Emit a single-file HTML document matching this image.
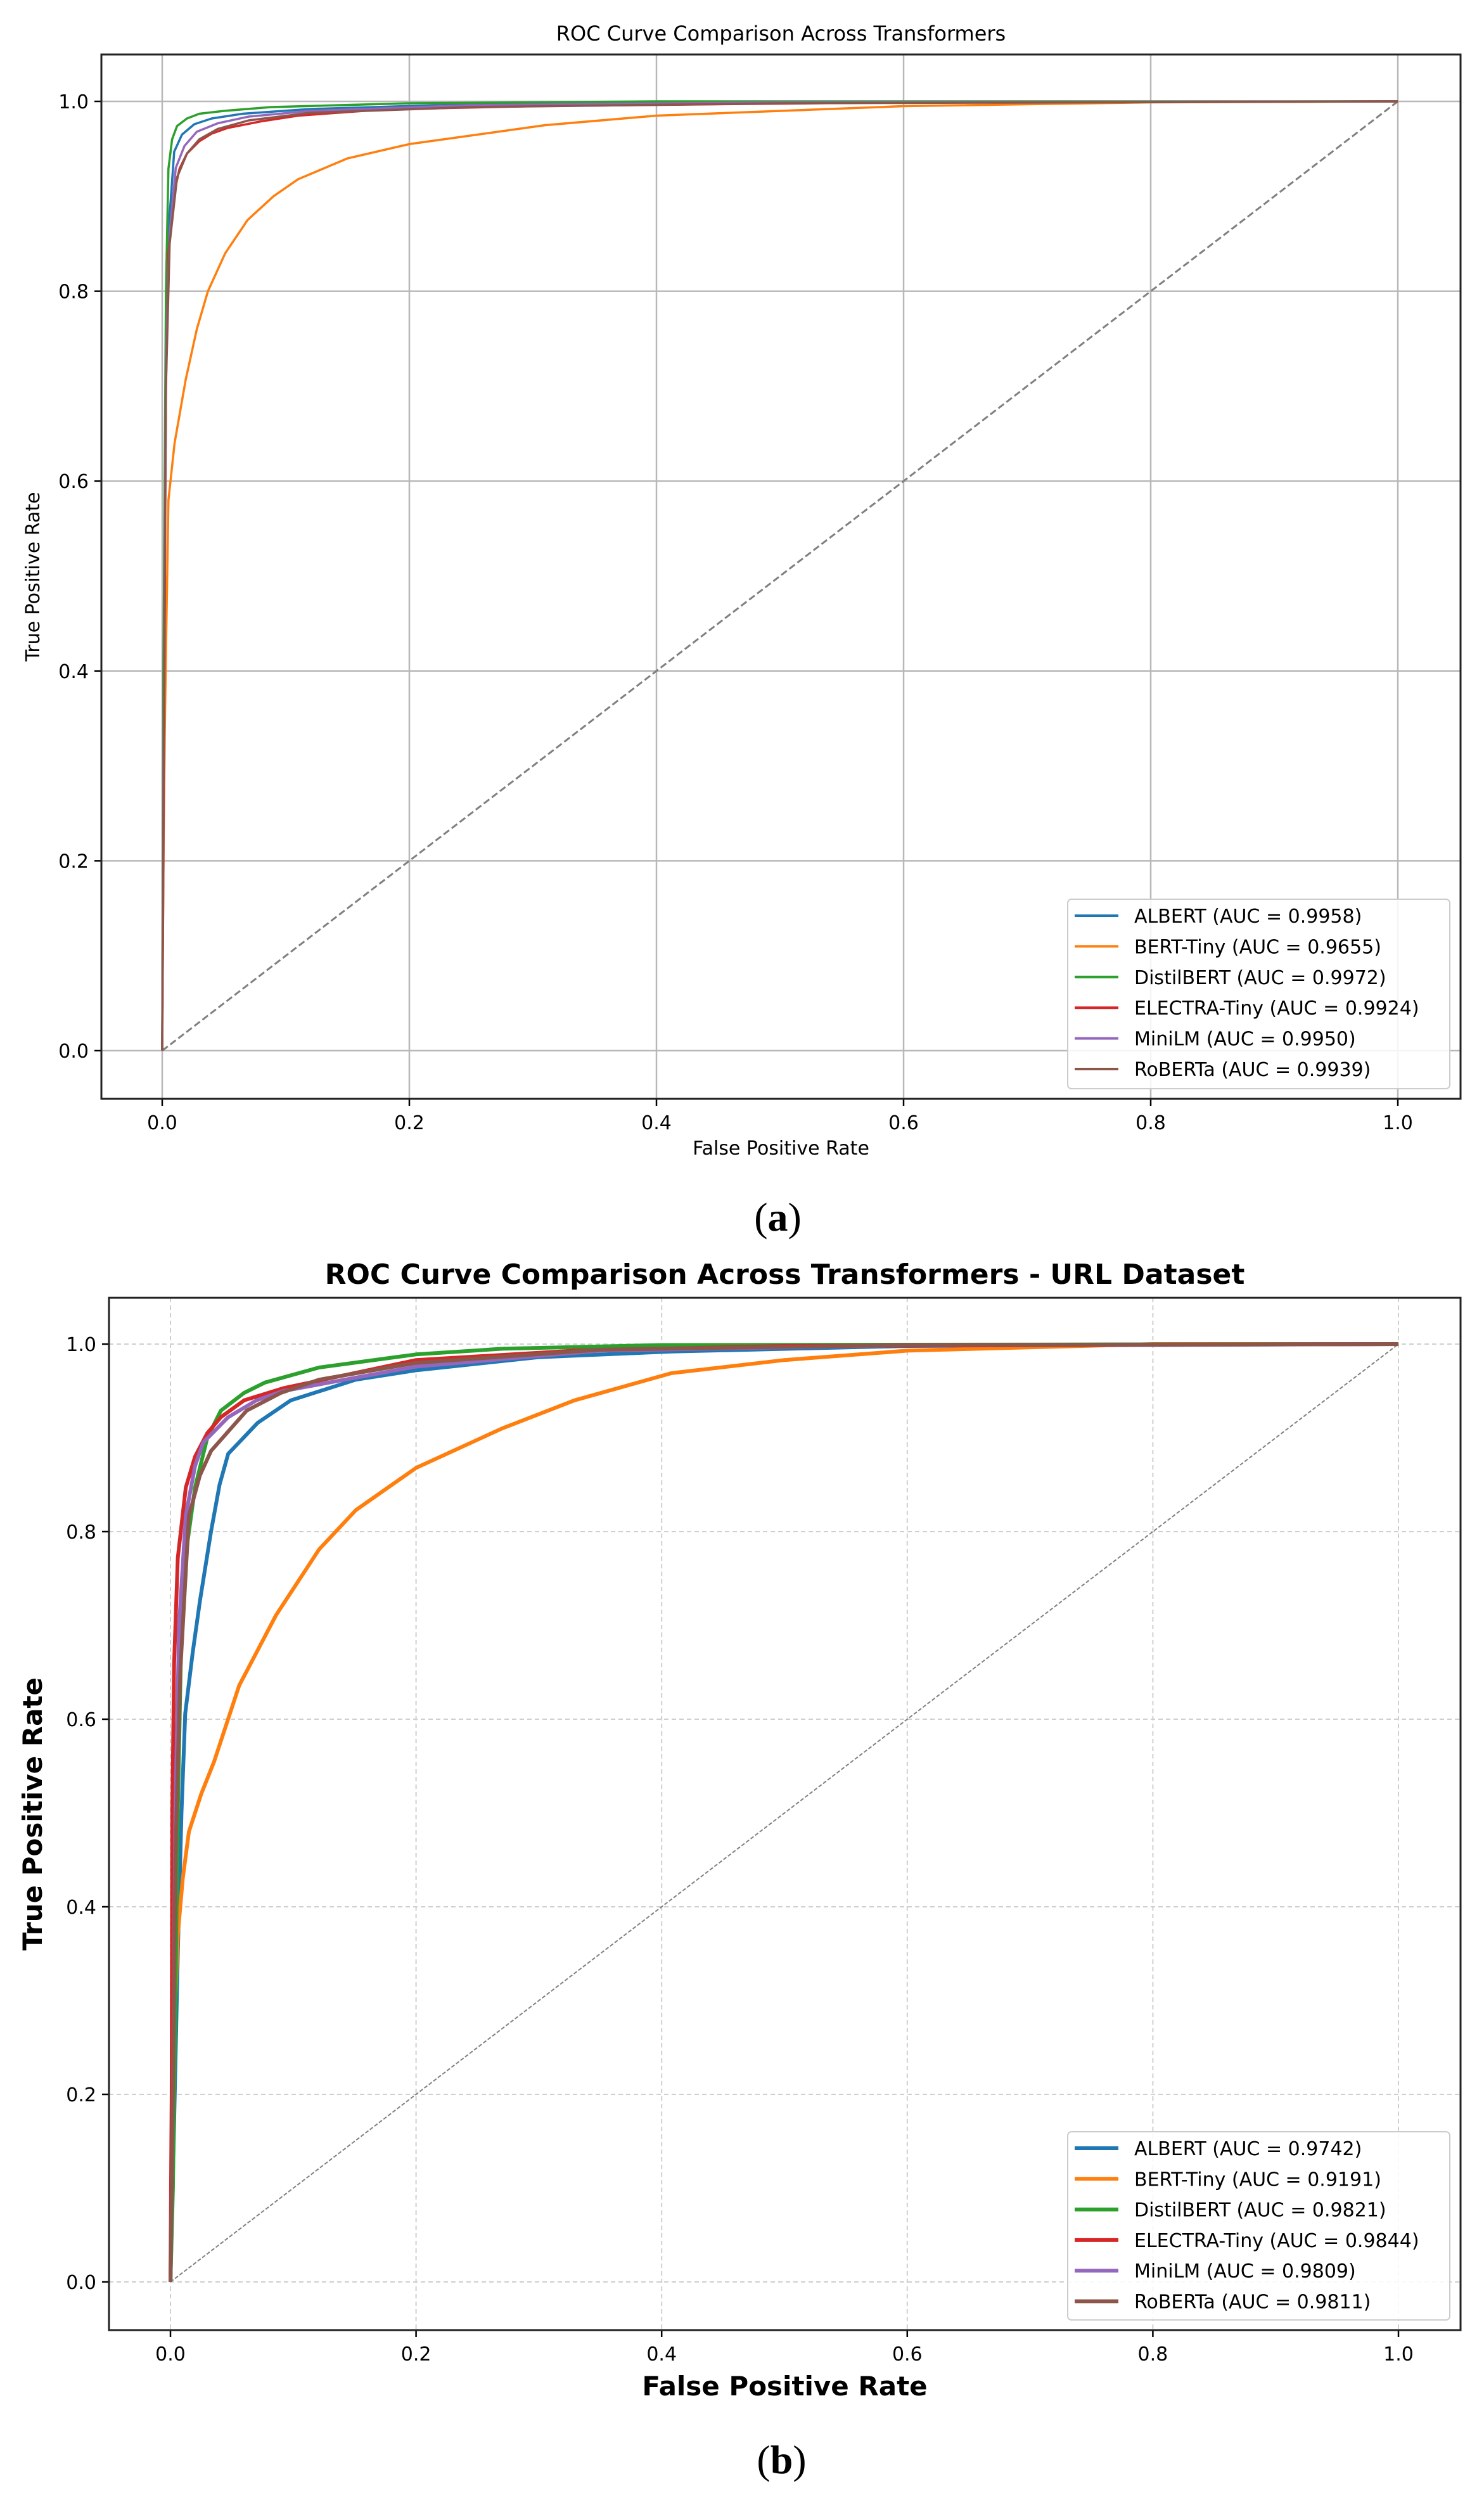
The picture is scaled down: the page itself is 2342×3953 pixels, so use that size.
<!DOCTYPE html>
<html><head><meta charset="utf-8"><style>
html,body{margin:0;padding:0;background:#fff;}
svg{display:block;}
text{font-family:"DejaVu Sans","Liberation Sans",sans-serif;fill:#000;}
</style></head><body>
<svg id="fig" width="2342" height="3953" viewBox="0 0 2342 3953" xmlns="http://www.w3.org/2000/svg"></svg>
<script>
const ticks = [0, 0.2, 0.4, 0.6, 0.8, 1.0];
const tickLabels = ["0.0", "0.2", "0.4", "0.6", "0.8", "1.0"];
const models = ["ALBERT", "BERT-Tiny", "DistilBERT", "ELECTRA-Tiny", "MiniLM", "RoBERTa"];
const colors = ["#1f77b4", "#ff7f0e", "#2ca02c", "#d62728", "#9467bd", "#8c564b"];
const aucA = ["0.9958", "0.9655", "0.9972", "0.9924", "0.9950", "0.9939"];
const aucB = ["0.9742", "0.9191", "0.9821", "0.9844", "0.9809", "0.9811"];

// Chart (a) ROC points
const a_albert_fpr = [0, 0.001, 0.003, 0.006, 0.0097, 0.016, 0.026, 0.04, 0.065, 0.12, 0.25, 0.5, 1];
const a_albert_tpr = [0, 0.3, 0.75, 0.88, 0.947, 0.965, 0.976, 0.982, 0.987, 0.992, 0.997, 0.999, 1];
const a_bert_fpr = [0, 0.001, 0.002, 0.003, 0.005, 0.01, 0.019, 0.028, 0.037, 0.051, 0.069, 0.09, 0.11, 0.15, 0.2, 0.31, 0.4, 0.6, 0.8, 1];
const a_bert_tpr = [0, 0.2, 0.33, 0.42, 0.58, 0.64, 0.707, 0.76, 0.80, 0.84, 0.875, 0.9, 0.918, 0.94, 0.955, 0.975, 0.985, 0.995, 0.999, 1];
const a_distil_fpr = [0, 0.001, 0.003, 0.005, 0.008, 0.012, 0.02, 0.03, 0.05, 0.088, 0.2, 0.4, 1];
const a_distil_tpr = [0, 0.4, 0.8, 0.929, 0.96, 0.974, 0.982, 0.987, 0.99, 0.994, 0.998, 1, 1];
const a_electra_fpr = [0, 0.001, 0.003, 0.005, 0.009, 0.014, 0.02, 0.03, 0.04, 0.053, 0.08, 0.11, 0.18, 0.3, 0.6, 1];
const a_electra_tpr = [0, 0.2, 0.7, 0.84, 0.9, 0.929, 0.945, 0.958, 0.966, 0.972, 0.979, 0.985, 0.9916, 0.995, 0.999, 1];
const a_minilm_fpr = [0, 0.001, 0.003, 0.006, 0.011, 0.018, 0.028, 0.045, 0.07, 0.12, 0.25, 0.5, 1];
const a_minilm_tpr = [0, 0.3, 0.72, 0.86, 0.93, 0.953, 0.968, 0.977, 0.984, 0.99, 0.996, 0.999, 1];
const a_roberta_fpr = [0, 0.001, 0.003, 0.006, 0.012, 0.02, 0.03, 0.045, 0.07, 0.12, 0.25, 0.5, 1];
const a_roberta_tpr = [0, 0.25, 0.7, 0.85, 0.92, 0.945, 0.96, 0.971, 0.98, 0.988, 0.994, 0.998, 1];

// Chart (b) ROC points
const b_albert_fpr = [0, 0.003, 0.006, 0.009, 0.012, 0.018, 0.024, 0.033, 0.04, 0.047, 0.071, 0.098, 0.151, 0.2, 0.3, 0.408, 0.6, 1];
const b_albert_tpr = [0, 0.17, 0.35, 0.5, 0.606, 0.67, 0.726, 0.80, 0.85, 0.883, 0.916, 0.94, 0.962, 0.972, 0.986, 0.992, 0.998, 1];
const b_bert_fpr = [0, 0.002, 0.004, 0.006, 0.01, 0.015, 0.025, 0.0356, 0.056, 0.086, 0.121, 0.151, 0.2, 0.27, 0.329, 0.408, 0.5, 0.6, 0.8, 1];
const b_bert_tpr = [0, 0.15, 0.3, 0.37, 0.43, 0.48, 0.52, 0.555, 0.636, 0.711, 0.781, 0.823, 0.868, 0.91, 0.94, 0.969, 0.983, 0.993, 1, 1];
const b_distil_fpr = [0, 0.002, 0.004, 0.006, 0.009, 0.014, 0.02, 0.03, 0.041, 0.06, 0.077, 0.121, 0.2, 0.27, 0.4, 1];
const b_distil_tpr = [0, 0.1, 0.3, 0.5, 0.70, 0.79, 0.847, 0.9, 0.929, 0.948, 0.959, 0.975, 0.989, 0.995, 0.999, 1];
const b_electra_fpr = [0, 0.001, 0.0015, 0.003, 0.006, 0.0125, 0.02, 0.03, 0.041, 0.06, 0.092, 0.2, 0.329, 0.5, 1];
const b_electra_tpr = [0, 0.2, 0.5, 0.66, 0.772, 0.847, 0.88, 0.905, 0.922, 0.94, 0.953, 0.983, 0.993, 0.998, 1];
const b_minilm_fpr = [0, 0.002, 0.004, 0.007, 0.0125, 0.02, 0.0267, 0.047, 0.07, 0.092, 0.2, 0.35, 0.6, 1];
const b_minilm_tpr = [0, 0.2, 0.5, 0.7, 0.817, 0.87, 0.895, 0.922, 0.94, 0.95, 0.976, 0.993, 0.999, 1];
const b_roberta_fpr = [0, 0.002, 0.004, 0.008, 0.015, 0.024, 0.033, 0.062, 0.09, 0.121, 0.2, 0.35, 0.6, 1];
const b_roberta_tpr = [0, 0.2, 0.45, 0.65, 0.817, 0.86, 0.886, 0.929, 0.948, 0.962, 0.98, 0.994, 0.999, 1];

const NS = "http://www.w3.org/2000/svg";
const fig = document.getElementById('fig');
function mk(tag, attrs, parent, txt) {
  const e = document.createElementNS(NS, tag);
  for (const k in attrs) e.setAttribute(k, attrs[k]);
  if (txt !== undefined) e.textContent = txt;
  (parent || fig).appendChild(e);
  return e;
}

function drawChart(cfg) {
  const g = mk('g', {});
  
  
  const sx = v => cfg.x0 + v * (cfg.x1 - cfg.x0);
  const sy = v => cfg.y0 + v * (cfg.y1 - cfg.y0);
  // grid
  ticks.forEach((t, i) => {
    const gx = mk('line', {x1: sx(t), x2: sx(t), y1: cfg.top, y2: cfg.bottom, stroke: cfg.gridColor, 'stroke-width': cfg.gridW, 'stroke-dasharray': cfg.gridDash}, g);
    
    
    const gy = mk('line', {x1: cfg.left, x2: cfg.right, y1: sy(t), y2: sy(t), stroke: cfg.gridColor, 'stroke-width': cfg.gridW, 'stroke-dasharray': cfg.gridDash}, g);
    
    
    mk('line', {x1: sx(t), x2: sx(t), y1: cfg.bottom, y2: cfg.bottom + 11, stroke: '#000', 'stroke-width': 2.5}, g);
    mk('line', {x1: cfg.left - 11, x2: cfg.left, y1: sy(t), y2: sy(t), stroke: '#000', 'stroke-width': 2.5}, g);
    const xl = mk('text', {x: sx(t), y: cfg.bottom + 48, 'font-size': 30, 'text-anchor': 'middle'}, g, tickLabels[i]);
    
    
    const yl = mk('text', {x: cfg.left - 20, y: sy(t) + 11, 'font-size': 30, 'text-anchor': 'end'}, g, tickLabels[i]);
    
    
  });
  // diagonal
  const d = mk('line', {x1: sx(0), y1: sy(0), x2: sx(1), y2: sy(1), stroke: '#808080', 'stroke-width': cfg.diagW, 'stroke-dasharray': cfg.diagDash}, g);
  
  
  // curves
  cfg.series.forEach((s, i) => {
    const pts = s[0].map((f, j) => sx(f).toFixed(1) + ',' + sy(s[1][j]).toFixed(1)).join(' ');
    const p = mk('polyline', {points: pts, fill: 'none', stroke: colors[i], 'stroke-width': cfg.lineW, 'stroke-linejoin': 'round'}, g);
    
    
  });
  // spines
  const sp = mk('rect', {x: cfg.left, y: cfg.top, width: cfg.right - cfg.left, height: cfg.bottom - cfg.top, fill: 'none', stroke: '#222', 'stroke-width': 3}, g);
  
  
  // legend
  const lg = mk('g', {}, g);
  
  
  mk('rect', {x: cfg.lx, y: cfg.ly, width: cfg.lw, height: cfg.lh, rx: 6, fill: '#fff', 'fill-opacity': 0.85, stroke: '#cccccc', 'stroke-width': 2}, lg);
  models.forEach((m, i) => {
    const yy = cfg.ly + cfg.lfirst + i * cfg.lstep;
    const e = mk('g', {}, lg);
    
    
    mk('line', {x1: cfg.lx + 11, x2: cfg.lx + 80, y1: yy, y2: yy, stroke: colors[i], 'stroke-width': cfg.legLineW}, e);
    mk('text', {x: cfg.lx + 105, y: yy + 11, 'font-size': 30}, e, m + ' (AUC = ' + cfg.auc[i] + ')');
  });
  // titles
  const t = mk('text', {x: (cfg.left + cfg.right) / 2, y: cfg.titleY, 'font-size': cfg.titleSize, 'font-weight': cfg.bold ? 'bold' : 'normal', 'text-anchor': 'middle'}, g, cfg.title);
  
  
  const xt = mk('text', {x: (cfg.left + cfg.right) / 2, y: cfg.xlabY, 'font-size': cfg.labSize, 'font-weight': cfg.bold ? 'bold' : 'normal', 'text-anchor': 'middle'}, g, 'False Positive Rate');
  
  
  const cy = (cfg.top + cfg.bottom) / 2;
  const yt = mk('text', {x: cfg.ylabX, y: cy, 'font-size': cfg.labSize, 'font-weight': cfg.bold ? 'bold' : 'normal', 'text-anchor': 'middle', transform: 'rotate(-90 ' + cfg.ylabX + ' ' + cy + ')'}, g, 'True Positive Rate');
  
  
  const cap = mk('text', {x: (cfg.left + cfg.right) / 2 - 5, y: cfg.capY, 'font-size': 64, 'text-anchor': 'middle', style: 'font-family:"Liberation Serif",serif'}, g);
  
  
  mk('tspan', {}, cap, '(');
  mk('tspan', {'font-weight': 'bold'}, cap, cfg.cap);
  mk('tspan', {}, cap, ')');
}

drawChart({
  id: 'chart-a', left: 160, right: 2305, top: 86, bottom: 1734,
  x0: 256, x1: 2206, y0: 1658, y1: 160,
  gridColor: '#b8b8b8', gridW: 2.5, gridDash: 'none', diagW: 3, diagDash: '11 5', lineW: 3.5, legLineW: 4,
  series: [[a_albert_fpr, a_albert_tpr], [a_bert_fpr, a_bert_tpr], [a_distil_fpr, a_distil_tpr], [a_electra_fpr, a_electra_tpr], [a_minilm_fpr, a_minilm_tpr], [a_roberta_fpr, a_roberta_tpr]],
  auc: aucA, lx: 1685, ly: 1419, lw: 603, lh: 299, lfirst: 26, lstep: 48.4,
  title: 'ROC Curve Comparison Across Transformers', titleY: 64, titleSize: 32, bold: false,
  xlabY: 1822, ylabX: 62, labSize: 30, capY: 1942, cap: 'a'
});
drawChart({
  id: 'chart-b', left: 172, right: 2305, top: 2048, bottom: 3677,
  x0: 269, x1: 2207, y0: 3601, y1: 2121,
  gridColor: '#cfcfcf', gridW: 2, gridDash: '7 5', diagW: 2, diagDash: '6 3', lineW: 6, legLineW: 6,
  series: [[b_albert_fpr, b_albert_tpr], [b_bert_fpr, b_bert_tpr], [b_distil_fpr, b_distil_tpr], [b_electra_fpr, b_electra_tpr], [b_minilm_fpr, b_minilm_tpr], [b_roberta_fpr, b_roberta_tpr]],
  auc: aucB, lx: 1685, ly: 3364, lw: 603, lh: 297, lfirst: 26, lstep: 48.3,
  title: 'ROC Curve Comparison Across Transformers - URL Dataset', titleY: 2026, titleSize: 44, bold: true,
  xlabY: 3780, ylabX: 66, labSize: 42, capY: 3903, cap: 'b'
});
</script>
</body></html>
